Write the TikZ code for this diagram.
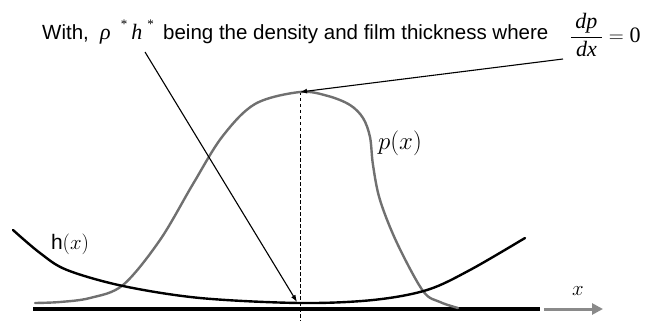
\documentclass[tikz,border=0pt]{standalone}
\usepackage{fontspec}
\setmainfont{Liberation Sans}
\newfontfamily\tms{Liberation Serif}
\usetikzlibrary{arrows.meta}
\definecolor{pgray}{HTML}{707070}
\definecolor{agray}{HTML}{8A8A8A}
\begin{document}
\begin{tikzpicture}[x=1pt,y=-1pt,
  txt/.style={anchor=base west, inner sep=0pt, font=\fontsize{20.5}{24}\selectfont},
  pcurve/.style={draw=pgray, line width=2.4pt, line cap=round},
  hcurve/.style={draw=black, line width=2.4pt, line cap=round},
  pointer/.style={draw=black, line width=1.1pt, -{Latex[length=7pt,width=5pt]}},
  lbl/.style={inner sep=0pt}]
\useasboundingbox (0,0) rectangle (646,321);
% title
\node[txt] (with) at (42,40) {With,};
\node[txt] (rhoh) at (100,40) {\fontsize{22}{24}\selectfont{\tms\itshape ρ}\hspace{10pt}\raisebox{11.5pt}{\tms\fontsize{13}{13}\selectfont *}\hspace{4pt}{\tms\itshape h}\hspace{5pt}\raisebox{11.5pt}{\tms\fontsize{13}{13}\selectfont *}};
\node[txt] (being) at (163,40) {being the density and film thickness where};
\node[anchor=base west, inner sep=0pt] (frac) at (569.5,42.5) {\fontsize{22}{24}\selectfont$\displaystyle\frac{\hbox to 31pt{\hss\tms\itshape dp\hss}}{\hbox to 31pt{\hss\tms\itshape dx\hss}}=\hbox{\tms 0}$};
% axis
\coordinate (b0) at (33,309);
\coordinate (b1) at (540,309);
\coordinate (a0) at (544,309);
\coordinate (a1) at (603,309);
\draw[black, line width=3.5pt] (b0) -- (b1);
\draw[agray, line width=3pt, -{Triangle[length=11pt,width=11pt]}] (a0) -- (a1);
\node[lbl] (xl) at (578,291) {\fontsize{21}{24}\selectfont$x$};
% dashed vertical
\coordinate (peak) at (300,92);
\coordinate (dbot) at (300,321);
\draw[black, line width=1pt, dash pattern=on 3.5pt off 2.5pt] (peak) -- (dbot);
% curves
\draw[pcurve] plot[smooth, tension=0.55] coordinates {(35,303) (60,302) (90,298) (123,285) (160,240) (193,184) (222,137) (255,104) (300,92) (328,96) (350,105) (363,118) (370,137) (373,165) (380,200) (397,243) (423,291) (440,302) (458,308)};
\draw[hcurve] plot[smooth, tension=0.55] coordinates {(13,230) (40,253) (67,270) (123,286) (200,298) (300,303) (373,300) (427,290) (470,270) (525,238)};
% labels
\node[lbl] (pl) at (400,143) {\fontsize{23}{26}\selectfont$p(x)$};
\node[lbl] (hl) at (70,244) {\fontsize{21}{24}\selectfont h$(x)$};
% pointers
\coordinate (s1) at (145,52);
\coordinate (e1) at (297,302);
\coordinate (s2) at (563,59);
\draw[pointer] (s1) -- (e1);
\draw[pointer] (s2) -- (peak);
\end{tikzpicture}
\end{document}
